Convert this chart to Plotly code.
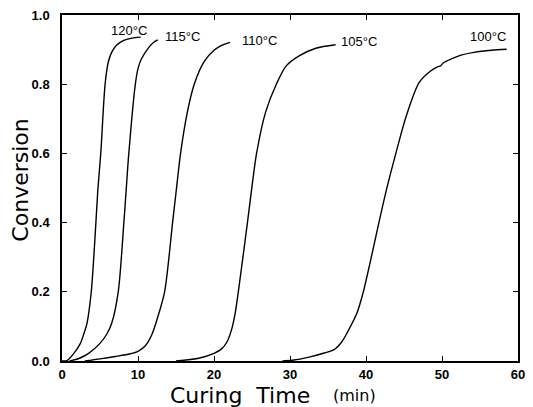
import plotly.graph_objects as go

# Isothermal cure: degree of conversion vs. curing time (min)
t_120 = [0.0, 0.7, 1.56, 2.42, 2.9, 3.29, 3.85, 4.46, 4.72, 5.1, 5.67, 6.1, 6.6, 7.2, 8.05, 9.2, 10.35]
c_120 = [0.0, 0.002, 0.022, 0.051, 0.08, 0.109, 0.2, 0.4, 0.496, 0.6, 0.8, 0.865, 0.895, 0.913, 0.926, 0.933, 0.936]

t_115 = [1.0, 2.3, 3.5, 5.0, 5.9, 6.54, 7.4, 8.14, 8.45, 8.79, 9.65, 10.0, 10.43, 11.3, 12.0, 12.6]
c_115 = [0.0, 0.008, 0.022, 0.051, 0.078, 0.109, 0.2, 0.4, 0.496, 0.6, 0.8, 0.845, 0.872, 0.903, 0.920, 0.928]

t_110 = [3.0, 5.0, 7.0, 9.0, 10.0, 11.0, 11.8, 12.5, 13.5, 14.55, 15.05, 15.6, 16.5, 17.4, 18.7, 20.0, 21.0, 22.1]
c_110 = [0.0, 0.006, 0.013, 0.021, 0.028, 0.045, 0.075, 0.12, 0.2, 0.4, 0.496, 0.6, 0.72, 0.8, 0.865, 0.898, 0.912, 0.921]

t_105 = [15.0, 18.0, 20.0, 21.0, 21.7, 22.3, 22.8, 23.2, 24.4, 24.95, 25.6, 26.8, 28.2, 29.5, 31.2, 33.4, 36.0]
c_105 = [0.0, 0.008, 0.022, 0.035, 0.055, 0.09, 0.14, 0.2, 0.4, 0.496, 0.6, 0.72, 0.8, 0.853, 0.882, 0.904, 0.914]

t_100 = [29.0, 30.3, 32.5, 34.5, 35.8, 36.8, 37.6, 38.8, 39.65, 41.7, 42.7, 44.0, 45.3, 47.0,
         48.5, 49.4, 49.8, 50.2, 51.1, 52.5, 54.2, 56.5, 58.5]
c_100 = [0.0, 0.002, 0.011, 0.023, 0.033, 0.055, 0.085, 0.138, 0.2, 0.4, 0.496, 0.606, 0.708, 0.805,
         0.838, 0.850, 0.853, 0.862, 0.872, 0.884, 0.892, 0.898, 0.901]

series = [
    ("120°C", t_120, c_120),
    ("115°C", t_115, c_115),
    ("110°C", t_110, c_110),
    ("105°C", t_105, c_105),
    ("100°C", t_100, c_100),
]

# Curve labels (temperature) placed near the plateau of each curve
label_text = ["120°C", "115°C", "110°C", "105°C", "100°C"]
label_t = [8.83, 15.8, 25.95, 39.1, 56.0]
label_c = [0.955, 0.939, 0.927, 0.922, 0.938]

x_ticks = [0, 10, 20, 30, 40, 50, 60]
y_ticks = [0.0, 0.2, 0.4, 0.6, 0.8, 1.0]

fig = go.Figure()
for name, t, c in series:
    fig.add_trace(go.Scatter(
        x=t, y=c, mode="lines", name=name,
        line=dict(color="black", width=1.4, shape="spline", smoothing=0.8),
        showlegend=False,
    ))

for txt, tx, cy in zip(label_text, label_t, label_c):
    fig.add_annotation(x=tx, y=cy, text=txt, showarrow=False,
                       xanchor="center", yanchor="middle",
                       font=dict(family="Liberation Sans, Arial", size=13, color="black"))

axis_common = dict(
    showline=True, linecolor="black", linewidth=1.5, mirror="ticks",
    ticks="inside", ticklen=5, tickwidth=1.2, tickcolor="black",
    showgrid=False, zeroline=False,
    tickfont=dict(family="Liberation Sans, Arial", size=13, color="black"),
)

fig.update_xaxes(range=[0, 60], tickvals=x_ticks, ticklabelstandoff=1,
                 ticktext=[f"<b>{v}</b>" for v in x_ticks], **axis_common)
fig.update_yaxes(range=[0, 1.0], tickvals=y_ticks, ticklabelstandoff=8,
                 ticktext=[f"<b>{v:.1f}</b>" for v in y_ticks], **axis_common)

# Axis titles
fig.add_annotation(xref="paper", yref="paper", x=-0.093, y=0.523,
                   xanchor="center", yanchor="middle",
                   text="Conversion", textangle=-90, showarrow=False,
                   font=dict(family="DejaVu Sans", size=22, color="black"))
fig.add_annotation(xref="paper", yref="paper", x=0.391, y=-0.1,
                   xanchor="center", yanchor="middle",
                   text="Curing\u00a0\u00a0Time", showarrow=False,
                   font=dict(family="DejaVu Sans", size=22, color="black"))
fig.add_annotation(xref="paper", yref="paper", x=0.641, y=-0.1,
                   xanchor="center", yanchor="middle",
                   text="(min)", showarrow=False,
                   font=dict(family="DejaVu Sans", size=16, color="black"))

fig.update_layout(
    width=533, height=407,
    margin=dict(l=62, r=8, t=15, b=46),
    paper_bgcolor="white", plot_bgcolor="white",
)

fig.write_html("out.html")
